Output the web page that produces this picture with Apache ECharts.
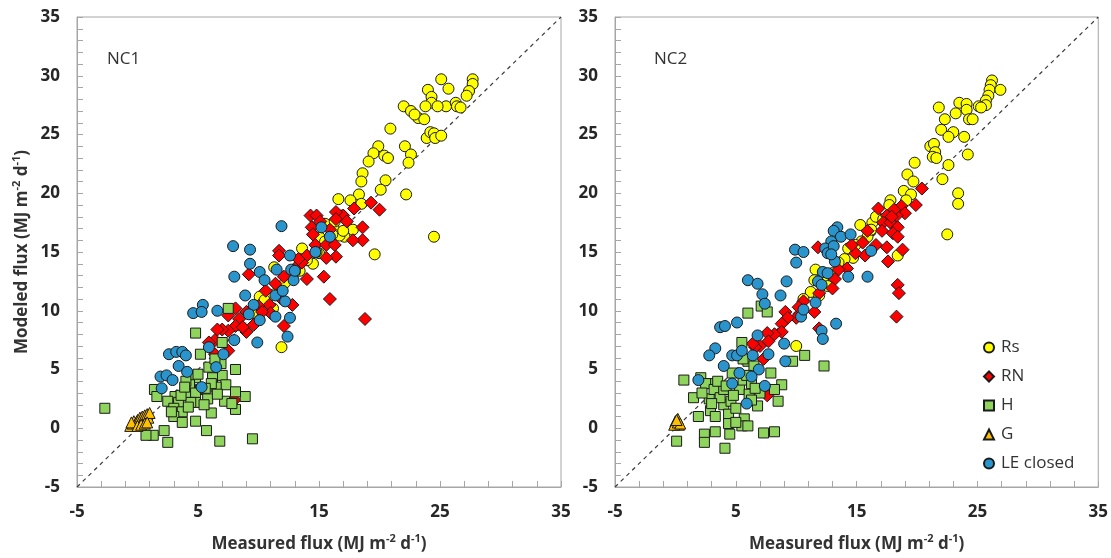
<!DOCTYPE html>
<html>
<head>
<meta charset="utf-8">
<title>NC1 / NC2 modeled vs measured flux</title>
<script src="https://cdn.jsdelivr.net/npm/echarts@6/dist/echarts.min.js"></script>
<style>
  html, body { margin: 0; padding: 0; background: #fff; }
  #chart { width: 1111px; height: 558px; }
</style>
</head>
<body>
<div id="chart"></div>
<script>
// axis ticks (both panels share the same range)
const xTicks = [-5, 5, 15, 25, 35]
const yTicks = [-5, 0, 5, 10, 15, 20, 25, 30, 35]
const oneToOne = [-5, 35]

const seriesNames = ['Rs', 'RN', 'H', 'G', 'LE closed']

// ---- NC1 ----
const nc1Rs = [
  [25.1, 29.7], [27.7, 29.7], [27.7, 29.3], [25.7, 28.9], [24.0, 28.8], [24.3, 28.2],
  [27.4, 28.7], [27.2, 28.3], [24.3, 27.7], [23.8, 27.4], [25.5, 27.4], [26.3, 27.7],
  [26.4, 27.4], [26.7, 27.3], [24.8, 27.4], [22.0, 27.4], [22.6, 27.0], [23.2, 26.4],
  [23.7, 26.3], [22.9, 26.7], [23.9, 24.7], [24.2, 25.2], [24.5, 25.1], [24.6, 24.7],
  [25.1, 24.9], [20.9, 25.5], [19.9, 24.0], [19.5, 23.4], [19.1, 22.7], [20.4, 23.2],
  [20.7, 23.0], [22.1, 24.0], [22.6, 23.3], [22.4, 22.6], [22.2, 19.9], [18.6, 21.7],
  [18.5, 21.0], [20.5, 21.1], [20.1, 20.3], [18.3, 19.9], [17.6, 19.4], [16.6, 19.5],
  [18.5, 19.1], [24.5, 16.3], [19.6, 14.8], [17.8, 16.9], [17.1, 16.3], [16.7, 16.4],
  [16.2, 17.1], [13.6, 15.3], [14.5, 14.0], [13.4, 13.4], [15.0, 14.9], [15.1, 16.2],
  [11.3, 13.7], [11.9, 12.0], [11.3, 11.4], [10.8, 11.1], [10.1, 11.2], [11.2, 10.2],
  [11.9, 6.9], [15.5, 17.4], [16.3, 17.6], [16.9, 18.1], [17.0, 16.8], [16.1, 16.5],
  [15.5, 15.9], [12.5, 12.8], [13.0, 13.3], [12.2, 12.4], [14.0, 14.3], [14.8, 15.0],
  [10.5, 10.9], [9.5, 9.8]
]
const nc1Rn = [
  [19.3, 19.2], [20.0, 18.6], [17.9, 18.7], [17.0, 18.1], [16.4, 18.4], [16.4, 17.8],
  [14.3, 18.1], [14.8, 18.1], [15.1, 17.6], [14.4, 17.1], [14.5, 16.5], [14.7, 15.6],
  [15.6, 15.6], [16.4, 14.6], [15.6, 14.5], [18.6, 17.1], [18.6, 16.0], [17.8, 16.0],
  [16.3, 15.6], [15.4, 12.9], [15.9, 11.0], [18.8, 9.3], [14.0, 12.7], [14.0, 14.7],
  [13.6, 14.1], [13.3, 14.4], [11.7, 15.1], [11.7, 14.7], [9.2, 13.1], [12.1, 12.9],
  [12.8, 10.5], [12.1, 8.7], [10.6, 11.7], [10.9, 10.5], [11.0, 9.8], [10.0, 10.4],
  [9.6, 8.8], [9.0, 9.9], [8.4, 9.3], [8.1, 10.2], [8.1, 8.7], [7.5, 8.3],
  [7.0, 8.4], [6.6, 8.4], [7.5, 9.6], [6.4, 7.5], [5.9, 7.3], [6.4, 6.3],
  [7.5, 6.6], [8.0, 2.4], [9.0, 8.2], [11.4, 12.3], [11.8, 11.1], [17.3, 17.6],
  [15.9, 16.9], [13.0, 13.6], [10.3, 9.9], [8.7, 8.6]
]
const nc1H = [
  [-2.7, 1.7], [7.5, 10.2], [4.8, 8.1], [7.0, 7.3], [5.2, 6.3], [8.1, 5.0],
  [6.9, 5.5], [5.9, 5.2], [7.0, 4.5], [6.2, 4.3], [4.8, 4.3], [4.3, 3.7],
  [4.0, 4.0], [7.3, 3.7], [6.5, 3.5], [6.1, 3.8], [5.2, 3.3], [1.4, 3.3],
  [1.6, 2.7], [3.1, 2.7], [2.5, 2.3], [3.4, 2.2], [4.0, 3.0], [4.8, 3.0],
  [5.8, 2.5], [8.9, 2.7], [8.1, 3.1], [8.1, 1.6], [7.2, 2.3], [6.1, 1.3],
  [4.8, 2.2], [4.4, 2.2], [3.0, 1.7], [3.7, 1.4], [3.0, 1.0], [3.7, 0.5],
  [4.8, 0.6], [5.7, -0.2], [6.8, -1.1], [9.5, -0.9], [2.5, -1.2], [2.2, -0.2],
  [1.3, -0.6], [0.7, -0.6], [5.6, 3.4], [3.6, 2.8], [4.2, 1.8], [5.5, 2.0],
  [2.8, 1.4], [6.6, 2.9], [7.8, 2.1], [3.9, 3.5], [5.0, 4.6], [6.4, 5.9]
]
const nc1G = [
  [-0.6, 0.2], [-0.4, 0.4], [-0.3, 0.6], [-0.1, 0.5], [0.0, 0.7], [0.1, 0.3],
  [0.2, 0.9], [0.3, 0.6], [0.4, 1.0], [0.5, 0.8], [0.6, 1.1], [0.7, 0.7],
  [0.8, 1.2], [0.9, 0.9], [1.0, 1.3], [-0.5, 0.5], [0.0, 0.2], [0.3, 0.3],
  [0.6, 0.4], [0.8, 0.5]
]
const nc1Le = [
  [11.9, 17.2], [7.9, 15.5], [9.3, 15.2], [9.3, 14.0], [8.0, 12.9], [10.1, 13.3],
  [10.5, 12.6], [8.9, 11.3], [9.6, 10.5], [9.2, 9.7], [10.1, 9.2], [9.9, 7.3],
  [11.4, 9.5], [12.4, 7.8], [12.6, 9.4], [12.2, 10.8], [11.4, 11.3], [12.0, 11.7],
  [12.6, 14.7], [12.7, 13.5], [12.9, 12.6], [13.0, 13.4], [11.5, 13.5], [14.7, 15.0],
  [15.2, 17.1], [15.9, 16.3], [5.4, 10.5], [4.6, 9.8], [5.3, 9.9], [6.6, 10.0],
  [8.0, 7.5], [5.9, 6.9], [7.1, 6.3], [6.5, 5.2], [5.3, 3.5], [2.6, 6.3],
  [3.2, 6.5], [3.7, 6.5], [4.0, 6.2], [3.4, 5.3], [4.1, 4.8], [1.9, 4.4],
  [2.4, 4.5], [2.9, 4.1], [2.0, 3.4]
]

// ---- NC2 ----
const nc2Rs = [
  [26.2, 29.6], [26.1, 29.2], [26.0, 28.8], [26.9, 28.8], [25.9, 28.3], [25.7, 27.9],
  [25.7, 27.5], [25.1, 27.4], [25.3, 27.3], [23.5, 27.7], [24.1, 27.6], [24.1, 27.1],
  [24.3, 26.3], [24.6, 26.3], [23.2, 26.8], [21.8, 27.3], [22.3, 26.3], [22.0, 25.4],
  [23.0, 25.2], [22.6, 24.8], [23.9, 24.8], [24.2, 23.3], [21.1, 24.0], [21.4, 24.2],
  [21.5, 23.5], [21.3, 23.1], [21.6, 23.0], [22.6, 22.4], [22.1, 21.2], [23.4, 20.0],
  [23.4, 19.1], [22.5, 16.5], [19.8, 22.6], [19.2, 21.6], [19.7, 21.0], [18.9, 20.2],
  [19.5, 19.9], [19.1, 19.4], [17.8, 19.4], [17.7, 19.0], [18.4, 14.7], [15.3, 17.3],
  [16.3, 17.5], [15.9, 16.3], [16.2, 16.9], [15.4, 15.9], [14.3, 15.3], [14.7, 14.5],
  [14.0, 14.4], [13.5, 14.1], [11.6, 13.5], [11.5, 12.6], [12.2, 12.6], [11.2, 11.6],
  [10.6, 11.0], [10.0, 7.0], [16.6, 18.0], [17.2, 17.8], [14.9, 15.6], [13.0, 13.2],
  [12.6, 12.1], [11.9, 11.3]
]
const nc2Rn = [
  [20.4, 20.4], [19.9, 19.0], [18.7, 18.9], [19.0, 18.3], [18.3, 18.1], [16.8, 18.7],
  [17.5, 18.1], [17.2, 17.5], [17.8, 17.5], [18.4, 17.1], [18.0, 16.6], [18.4, 16.3],
  [17.1, 16.8], [16.6, 15.6], [17.5, 15.4], [18.8, 15.2], [17.6, 14.2], [15.9, 16.8],
  [15.7, 14.7], [14.9, 14.9], [14.6, 15.6], [15.5, 15.8], [11.8, 15.4], [14.2, 13.6],
  [13.5, 13.5], [13.2, 12.7], [13.0, 11.9], [18.4, 12.2], [18.5, 11.5], [18.3, 9.5],
  [11.9, 11.5], [11.5, 9.9], [11.9, 8.5], [10.6, 10.8], [10.2, 10.3], [10.0, 9.4],
  [9.1, 9.9], [9.3, 9.4], [8.8, 8.9], [8.8, 8.2], [8.2, 8.0], [7.6, 8.1],
  [7.7, 7.4], [7.0, 7.0], [6.6, 6.9], [6.4, 7.2], [7.3, 5.9], [7.6, 2.8],
  [18.1, 18.6], [17.9, 18.0]
]
const nc2H = [
  [7.1, 10.4], [7.6, 9.9], [6.0, 9.8], [5.5, 7.3], [6.0, 5.7], [9.7, 5.7],
  [10.7, 6.2], [12.3, 5.3], [7.9, 4.7], [8.8, 3.7], [8.2, 3.3], [8.5, 2.3],
  [0.7, 4.1], [2.1, 4.3], [1.5, 2.6], [1.9, 1.0], [2.8, 2.5], [2.9, 3.8],
  [2.5, 3.8], [3.2, 3.3], [2.9, 1.5], [3.3, 1.0], [4.0, 2.0], [3.7, 2.6],
  [4.6, 2.3], [4.4, 1.2], [4.4, 0.4], [4.7, 4.7], [5.3, 3.3], [5.6, 4.1],
  [6.1, 2.9], [6.3, 3.8], [7.0, 3.0], [6.8, 1.9], [5.7, 0.8], [5.5, 0.2],
  [6.0, 0.2], [5.0, 1.7], [5.0, 0.5], [2.4, -0.5], [2.4, -1.2], [3.3, -0.3],
  [4.1, -1.7], [4.5, -0.5], [7.3, -0.4], [8.2, -0.3], [0.1, -1.1], [6.5, 5.3],
  [4.0, 3.3], [3.5, 4.0], [4.2, 3.6], [5.9, 4.5], [6.6, 3.4], [3.0, 2.1],
  [4.8, 2.8], [6.3, 2.4], [2.2, 3.0], [5.6, 5.9]
]
const nc2G = [
  [0.0, 0.6], [0.1, 0.4], [0.2, 0.8], [0.3, 0.3], [-0.1, 0.3], [0.2, 0.5],
  [0.4, 0.4], [0.1, 0.7]
]
const nc2Le = [
  [13.4, 17.1], [13.1, 16.8], [13.7, 16.3], [14.5, 16.5], [12.9, 15.9], [12.4, 15.3],
  [12.6, 14.9], [13.1, 15.5], [13.2, 14.2], [12.9, 14.8], [9.9, 15.2], [10.6, 15.0],
  [10.0, 14.1], [14.3, 12.9], [15.9, 12.9], [16.2, 15.1], [12.2, 13.3], [12.6, 13.2],
  [11.8, 12.5], [12.1, 12.2], [11.6, 10.7], [10.4, 9.5], [10.6, 10.1], [13.3, 8.9],
  [12.1, 8.3], [12.2, 7.6], [6.0, 12.6], [6.8, 12.3], [7.2, 11.4], [7.4, 10.6],
  [8.7, 11.3], [9.2, 12.5], [3.7, 8.6], [4.1, 8.7], [5.1, 9.0], [9.0, 7.2],
  [9.1, 5.7], [6.8, 7.9], [3.3, 6.8], [2.8, 6.2], [4.7, 6.2], [5.1, 6.2],
  [5.5, 6.6], [6.4, 6.2], [7.7, 6.3], [4.0, 5.3], [5.3, 4.7], [6.9, 5.0],
  [6.3, 4.4], [1.9, 4.1], [4.7, 3.8], [7.4, 3.6], [5.9, 2.1]
]

const panels = [
  { label: 'NC1', Rs: nc1Rs, RN: nc1Rn, H: nc1H, G: nc1G, 'LE closed': nc1Le },
  { label: 'NC2', Rs: nc2Rs, RN: nc2Rn, H: nc2H, G: nc2G, 'LE closed': nc2Le }
]

const styles = {
  'Rs': { symbol: 'circle', symbolSize: 11, color: '#ffff00' },
  'RN': { symbol: 'diamond', symbolSize: 13, color: '#ff0000' },
  'H': { symbol: 'rect', symbolSize: 10, color: '#8fd45c' },
  'G': { symbol: 'triangle', symbolSize: 11, color: '#ffc000' },
  'LE closed': { symbol: 'circle', symbolSize: 11, color: '#2a95cc' }
}

const font = '"Open Sans", sans-serif'
const unitRich = {
  n: { fontSize: 17, fontWeight: 'bold', fontFamily: font, color: '#333', lineHeight: 22 },
  s: { fontSize: 11, fontWeight: 'bold', fontFamily: font, color: '#333', lineHeight: 12, verticalAlign: 'top' }
}

const gray = '#a6a6a6'

function axisBase(idx, ticks) {
  return {
    type: 'value',
    gridIndex: idx,
    min: ticks[0],
    max: ticks[ticks.length - 1],
    interval: ticks[1] - ticks[0],
    axisLine: { show: true, onZero: false, lineStyle: { color: gray } },
    axisTick: { show: true, inside: true, length: 6, lineStyle: { color: gray } },
    minorTick: { show: true, splitNumber: 5, length: 6, lineStyle: { color: gray } },
    splitLine: { show: false },
    axisLabel: {
      margin: 17,
      showMinLabel: true,
      showMaxLabel: true,
      formatter: v => '{t|' + v + '}',
      rich: { t: { fontSize: 17, fontWeight: 'bold', fontFamily: font, color: '#262626' } }
    }
  }
}

function makeX(idx) {
  const axis = axisBase(idx, xTicks)
  axis.name = '{n|Measured flux (MJ m}{s|-2}{n| d}{s|-1}{n|)}'
  axis.nameLocation = 'middle'
  axis.nameGap = 46
  axis.nameTextStyle = { rich: unitRich }
  return axis
}

function makeY(idx) {
  const axis = axisBase(idx, yTicks)
  if (idx === 0) {
    axis.name = '{n|Modeled flux (MJ m}{s|-2}{n| d}{s|-1}{n|)}'
    axis.nameLocation = 'middle'
    axis.nameGap = 44
    axis.nameTextStyle = { rich: unitRich }
  }
  return axis
}

const series = []
panels.forEach((p, i) => {
  series.push({
    type: 'line',
    xAxisIndex: i,
    yAxisIndex: i,
    data: oneToOne.map(v => [v, v]),
    symbol: 'none',
    silent: true,
    z: 1,
    lineStyle: { color: '#3a3a3a', width: 1.2, type: [4, 4] }
  })
  seriesNames.forEach(name => {
    const s = styles[name]
    series.push({
      name: name,
      type: 'scatter',
      xAxisIndex: i,
      yAxisIndex: i,
      data: p[name],
      symbol: s.symbol,
      symbolSize: s.symbolSize,
      itemStyle: { color: s.color, borderColor: '#1a1a1a', borderWidth: 1, opacity: 1 },
      emphasis: { disabled: true },
      z: 2
    })
  })
})

const chart = echarts.init(document.getElementById('chart'), null, { renderer: 'canvas' })
chart.setOption({
  backgroundColor: '#ffffff',
  animation: false,
  title: [
    { text: 'NC1', left: 102, top: 46, textStyle: { fontSize: 17, fontWeight: 'normal', fontFamily: font, color: '#333' } },
    { text: 'NC2', left: 649, top: 46, textStyle: { fontSize: 17, fontWeight: 'normal', fontFamily: font, color: '#333' } }
  ],
  grid: [
    { left: 77, right: 550, top: 17, bottom: 71, show: true, borderColor: gray, borderWidth: 1 },
    { left: 615, right: 10, top: 17, bottom: 71, show: true, borderColor: gray, borderWidth: 1 }
  ],
  legend: {
    data: seriesNames,
    orient: 'vertical',
    left: 978,
    top: 334,
    itemGap: 12,
    itemWidth: 10,
    itemHeight: 10,
    textStyle: { fontSize: 17, fontFamily: font, color: '#333', padding: [0, 0, 0, 2] }
  },
  xAxis: [makeX(0), makeX(1)],
  yAxis: [makeY(0), makeY(1)],
  series: series
})
</script>
</body>
</html>
